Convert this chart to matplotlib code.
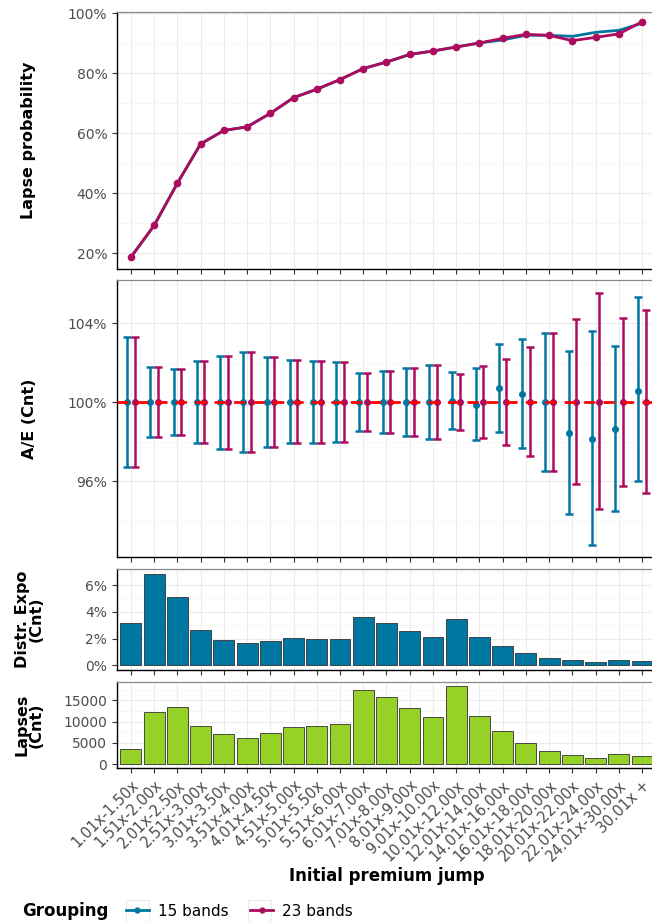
import numpy as np
import matplotlib
matplotlib.use("Agg")
import matplotlib.pyplot as plt
from matplotlib.lines import Line2D
from matplotlib.patches import Rectangle
from matplotlib.ticker import FixedLocator, FuncFormatter

plt.rcParams['font.family'] = ['DejaVu Sans']

# 数据
bands = ["1.01x-1.50x", "1.51x-2.00x", "2.01x-2.50x", "2.51x-3.00x", "3.01x-3.50x",
         "3.51x-4.00x", "4.01x-4.50x", "4.51x-5.00x", "5.01x-5.50x", "5.51x-6.00x",
         "6.01x-7.00x", "7.01x-8.00x", "8.01x-9.00x", "9.01x-10.00x", "10.01x-12.00x",
         "12.01x-14.00x", "14.01x-16.00x", "16.01x-18.00x", "18.01x-20.00x",
         "20.01x-22.00x", "22.01x-24.00x", "24.01x-30.00x", "30.01x +"]

lapse_15 = [18.66, 29.26, 43.36, 56.46, 60.95, 62.16, 66.66, 71.90, 74.72, 77.94, 81.63,
            83.78, 86.33, 87.47, 88.82, 90.16, 91.17, 92.71, 92.71, 92.37, 93.71, 94.39, 96.74]
lapse_23 = [18.66, 29.26, 43.36, 56.46, 60.95, 62.16, 66.66, 71.90, 74.72, 77.94, 81.63,
            83.78, 86.33, 87.47, 88.82, 90.16, 91.70, 93.04, 92.71, 90.93, 92.04, 93.18, 97.21]

ae_15 = [100, 100, 100, 100, 100, 100, 100, 100, 100, 100, 100, 100, 100, 100,
         100.08, 99.88, 100.73, 100.44, 100.0, 98.45, 98.16, 98.63, 100.59]
ae_15_hi = [103.31, 101.79, 101.70, 102.11, 102.36, 102.53, 102.31, 102.13, 102.11, 102.06,
            101.49, 101.59, 101.72, 101.89, 101.52, 101.74, 102.95, 103.21, 103.51, 102.62,
            103.59, 102.85, 105.32]
ae_15_lo = [96.73, 98.24, 98.33, 97.92, 97.65, 97.50, 97.72, 97.91, 97.94, 97.97, 98.53,
            98.45, 98.31, 98.14, 98.63, 98.06, 98.50, 97.69, 96.51, 94.33, 92.78, 94.48, 95.98]
ae_23 = [100] * 23
ae_23_hi = [103.31, 101.79, 101.70, 102.11, 102.36, 102.53, 102.31, 102.13, 102.11, 102.06,
            101.49, 101.59, 101.72, 101.89, 101.45, 101.84, 102.21, 102.78, 103.53, 104.22,
            105.55, 104.29, 104.68]
ae_23_lo = [96.73, 98.24, 98.33, 97.92, 97.65, 97.50, 97.72, 97.91, 97.94, 97.97, 98.53,
            98.45, 98.31, 98.14, 98.57, 98.18, 97.81, 97.27, 96.52, 95.83, 94.57, 95.76, 95.39]

expo = [3.16, 6.86, 5.14, 2.64, 1.90, 1.65, 1.85, 2.02, 2.00, 2.00, 3.58, 3.16, 2.59, 2.10,
        3.46, 2.10, 1.46, 0.91, 0.59, 0.42, 0.25, 0.42, 0.35]
lapses = [3520, 12190, 13520, 9060, 7030, 6170, 7420, 8750, 8910, 9380, 17580, 15860, 13280,
          11020, 18440, 11410, 7890, 5080, 3130, 2190, 1330, 2270, 1800]

TEAL = "#0077A0"
MAGENTA = "#AD0C5E"
GREEN = "#95D126"
GREY_TXT = "#4D4D4D"

W, H = 652, 922
fig = plt.figure(figsize=(W / 100, H / 100), dpi=100)


def add_panel(top, bottom, left=117, right=656):
    return fig.add_axes([left / W, 1 - bottom / H, (right - left) / W, (bottom - top) / H])


def style(ax, major, minor, fmt):
    ax.set_facecolor("white")
    ax.set_xlim(-0.6, len(bands) - 1 + 0.6)
    ax.set_xticks(np.arange(len(bands)))
    ax.yaxis.set_major_locator(FixedLocator(major))
    ax.yaxis.set_minor_locator(FixedLocator(minor))
    ax.yaxis.set_major_formatter(FuncFormatter(fmt))
    ax.grid(True, which="major", color="#EBEBEB", lw=0.8)
    ax.grid(True, which="minor", axis="y", color="#F4F4F4", lw=0.5)
    ax.set_axisbelow(True)
    for s in ["top", "right"]:
        ax.spines[s].set_color("#8A8A8A")
        ax.spines[s].set_linewidth(0.9)
    for s in ["left", "bottom"]:
        ax.spines[s].set_color("black")
        ax.spines[s].set_linewidth(1.0)
    ax.tick_params(which="major", length=3.5, width=0.8, color="#333333",
                   labelsize=10, labelcolor=GREY_TXT)
    ax.tick_params(which="minor", length=0)
    ax.tick_params(axis="x", labelbottom=False)


x = np.arange(len(bands))
pct = lambda v, p: f"{v:.0f}%"

# 面板1：退保概率
ax1 = add_panel(12, 269)
ax1.plot(x, lapse_15, color=TEAL, lw=2, zorder=3)
ax1.plot(x, lapse_23, color=MAGENTA, lw=2, marker="o", ms=4.5, zorder=4)
ax1.set_ylim(14.7, 100.5)
style(ax1, [20, 40, 60, 80, 100], [30, 50, 70, 90], pct)

# 面板2：A/E
ax2 = add_panel(280, 557)
off = 0.165
for xs, mid, lo, hi, col in [(x - off, ae_15, ae_15_lo, ae_15_hi, TEAL),
                             (x + off, ae_23, ae_23_lo, ae_23_hi, MAGENTA)]:
    mid = np.array(mid)
    ax2.errorbar(xs, mid, yerr=[mid - np.array(lo), np.array(hi) - mid], fmt="o",
                 color=col, ms=4, lw=1.8, capsize=2.8, capthick=1.8, zorder=3)
ax2.axhline(100, color="red", lw=2, ls=(0, (4, 3)), zorder=5)
ax2.set_ylim(92.15, 106.2)
style(ax2, [96, 100, 104], [94, 98, 102, 106], pct)

# 面板3：暴露分布
ax3 = add_panel(569, 670)
ax3.bar(x, expo, width=0.9, color=TEAL, edgecolor="#333333", lw=0.6, zorder=3)
ax3.set_ylim(-0.34, 7.2)
style(ax3, [0, 2, 4, 6], [1, 3, 5, 7], pct)

# 面板4：退保件数
ax4 = add_panel(682, 768)
ax4.bar(x, lapses, width=0.9, color=GREEN, edgecolor="#333333", lw=0.6, zorder=3)
ax4.set_ylim(-922, 19360)
style(ax4, [0, 5000, 10000, 15000], [2500, 7500, 12500, 17500], lambda v, p: f"{v:.0f}")
ax4.tick_params(axis="x", labelbottom=True)
ax4.set_xticklabels(bands, rotation=45, ha="right", rotation_mode="anchor",
                    fontsize=10.5, color=GREY_TXT)

# 轴标题
ylabels = [("Lapse probability", 12, 269), ("A/E (Cnt)", 280, 557),
           ("Distr. Expo\n(Cnt)", 569, 670), ("Lapses\n(Cnt)", 682, 768)]
for txt, t, b in ylabels:
    fig.text(29 / W, 1 - (t + b) / 2 / H, txt, rotation=90, ha="center", va="center",
             multialignment="center", fontsize=11.5, fontweight="bold", linespacing=0.9)

fig.text(387 / W, 1 - 876 / H, "Initial premium jump", ha="center", va="center",
         fontsize=12, fontweight="bold")

# 图例
fig.text(22 / W, 1 - 911 / H, "Grouping", ha="left", va="center",
         fontsize=12, fontweight="bold")
for kx in (126, 248):
    fig.patches.append(Rectangle((kx / W, 1 - 922 / H), 23 / W, 22 / H,
                                 transform=fig.transFigure, facecolor="white",
                                 edgecolor="#EBEBEB", lw=0.8))
handles = [Line2D([], [], color=TEAL, lw=2, marker="o", ms=3.5),
           Line2D([], [], color=MAGENTA, lw=2, marker="o", ms=3.5)]
fig.legend(handles, ["15 bands", "23 bands"], ncol=2, frameon=False,
           loc="center left", bbox_to_anchor=(126 / W, 1 - 911 / H), borderpad=0,
           borderaxespad=0, fontsize=11, handlelength=1.5, handletextpad=0.6,
           columnspacing=1.4)

fig.savefig("out.png", dpi=100)
